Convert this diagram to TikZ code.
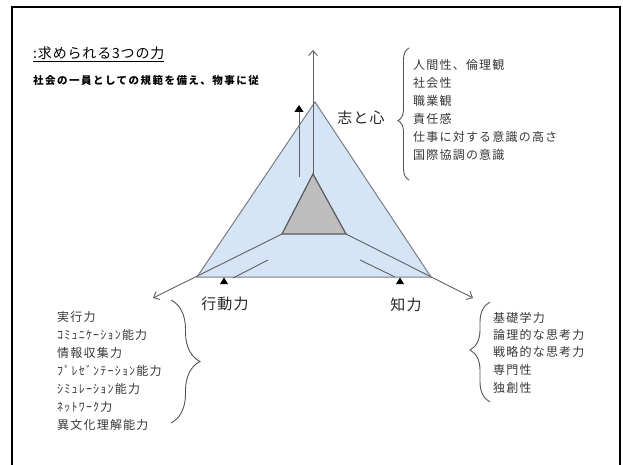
\documentclass[tikz,border=0pt]{standalone}
\usepackage{fontspec}
\newfontfamily\jpfont{Noto Sans CJK JP}
\newfontfamily\jplist[LetterSpace=10]{Noto Sans CJK JP}
\newfontfamily\jpsub[LetterSpace=14]{Noto Sans CJK JP}
\newfontfamily\jptitle[LetterSpace=6]{Noto Sans CJK JP}
\newfontfamily\jplab[LetterSpace=8]{Noto Sans CJK JP}
\usetikzlibrary{arrows.meta,decorations.pathreplacing}
\definecolor{triblue}{RGB}{213,228,246}
\definecolor{triedge}{RGB}{125,125,125}
\definecolor{innergray}{RGB}{190,190,190}
\definecolor{listgray}{RGB}{55,55,55}
\definecolor{conngray}{RGB}{95,95,95}
\tikzset{
  listitem/.style={anchor=west, inner sep=0pt, text=listgray, font=\jplist\fontsize{12}{12}\selectfont},
  biglabel/.style={inner sep=0pt, text=black!85, font=\jplab\fontsize{15}{15}\selectfont},
  conn/.style={draw=conngray, line width=0.9pt, -{Straight Barb[length=5pt,width=9pt]}},
  thinline/.style={draw=conngray, line width=0.9pt},
  bracestyle/.style={draw=listgray!85, line width=0.9pt, decorate},
  marker/.style={fill=black}
}
\begin{document}
\begin{tikzpicture}[x=1pt,y=-1pt]
\useasboundingbox (0,0) rectangle (623,465);
% frame
\draw[line width=2pt] (12,468) -- (12,7) -- (620,7) -- (620,468);

% outer triangle
\coordinate (A) at (315,102);
\coordinate (B) at (197,277);
\coordinate (C) at (431,277);
\filldraw[fill=triblue, draw=triedge, line width=1pt] (A) -- (B) -- (C) -- cycle;

% inner triangle corners and arrow ends
\coordinate (a) at (313,174);
\coordinate (b) at (282,234);
\coordinate (c) at (346,234);
\coordinate (T) at (313,50);
\coordinate (L) at (153,298);
\coordinate (R) at (473,298);
\draw[conn] (a) -- (T);
\draw[conn] (b) -- (L);
\draw[conn] (c) -- (R);
\filldraw[fill=innergray, draw=black!65, line width=1.2pt] (a) -- (b) -- (c) -- cycle;

% small arrows and markers
\coordinate (s1) at (299,177);
\coordinate (s2) at (299,105);
\draw[thinline, -{Triangle[length=7pt,width=9pt,fill=black,color=black]}] (s1) -- (s2);
\coordinate (l1) at (268,260);
\coordinate (l2) at (233,278);
\draw[thinline] (l1) -- (l2);
\coordinate (r1) at (360,260);
\coordinate (r2) at (395,277);
\draw[thinline] (r1) -- (r2);
\fill[marker] (220,284) -- (224,277.5) -- (228,284) -- cycle;
\fill[marker] (396,284) -- (400,277.5) -- (404,284) -- cycle;

% title
\node[anchor=base west, inner sep=0pt, font=\jptitle\fontsize{14}{14}\selectfont] (title) at (33,59) {\underline{:求められる3つの力}};
\node[anchor=base west, inner sep=0pt, font=\jpsub\fontsize{10.5}{10.5}\selectfont\bfseries] (sub) at (33,85) {社会の一員としての規範を備え、物事に従};

% labels
\node[biglabel] (kokoro) at (361,118) {志と心};
\node[biglabel] (kodo) at (225,304) {行動力};
\node[biglabel] (chi) at (406,305) {知力};

% brace and list for 志と心
\draw[bracestyle, decoration={brace, amplitude=11pt, aspect=0.45}] (409,180) -- (409,48);
\node[listitem] (h1) at (413,65) {人間性、倫理観};
\node[listitem] (h2) at (413,83) {社会性};
\node[listitem] (h3) at (413,101) {職業観};
\node[listitem] (h4) at (413,119) {責任感};
\node[listitem] (h5) at (413,137) {仕事に対する意識の高さ};
\node[listitem] (h6) at (413,155) {国際協調の意識};

% brace and list for 行動力
\draw[bracestyle, decoration={brace, amplitude=29pt, aspect=0.5}] (171,300) -- (171,423);
\node[listitem] (k1) at (57,317) {実行力};
\node[listitem] (k2) at (57,335) {ｺﾐｭﾆｹｰｼｮﾝ能力};
\node[listitem] (k3) at (57,353) {情報収集力};
\node[listitem] (k4) at (57,371) {ﾌﾟﾚｾﾞﾝﾃｰｼｮﾝ能力};
\node[listitem] (k5) at (57,389) {ｼﾐｭﾚｰｼｮﾝ能力};
\node[listitem] (k6) at (57,407) {ﾈｯﾄﾜｰｸ力};
\node[listitem] (k7) at (57,425) {異文化理解能力};

% brace and list for 知力
\draw[bracestyle, decoration={brace, amplitude=20pt, aspect=0.52}] (490,402) -- (490,302);
\node[listitem] (c1) at (493,318) {基礎学力};
\node[listitem] (c2) at (493,335) {論理的な思考力};
\node[listitem] (c3) at (493,352) {戦略的な思考力};
\node[listitem] (c4) at (493,370) {専門性};
\node[listitem] (c5) at (493,388) {独創性};
\end{tikzpicture}
\end{document}
